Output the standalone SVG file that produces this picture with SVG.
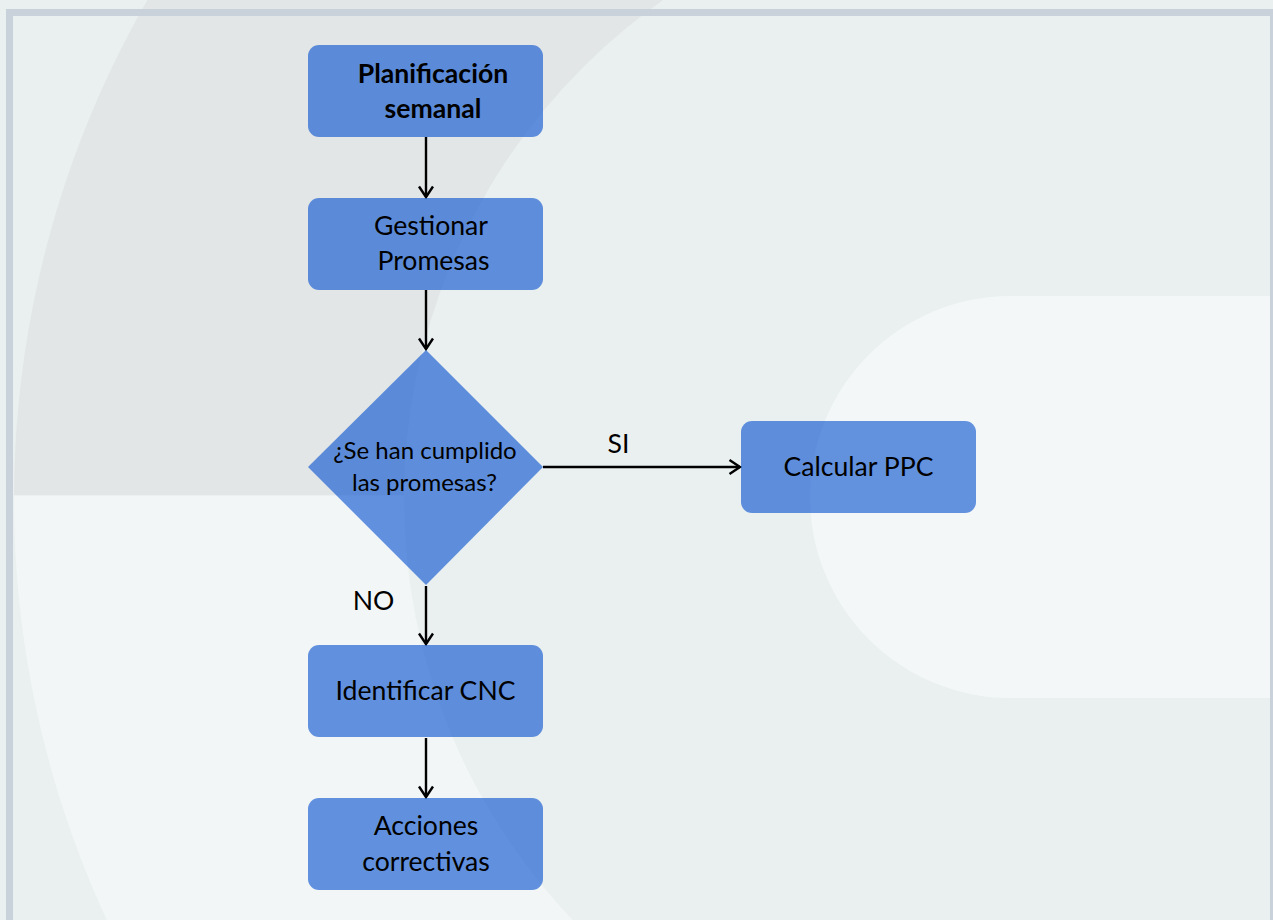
<svg xmlns="http://www.w3.org/2000/svg" width="1273" height="920" viewBox="0 0 1273 920">
  <defs>
    <style>
      .node { fill: #0853cf; fill-opacity: 0.62; }
      .label { font-family: "Lato", "Liberation Sans", sans-serif; font-size: 26.6px; fill: #000; text-anchor: middle; }
      .bold { font-weight: bold; }
      .small { font-size: 24px; }
      .edge { fill: none; stroke: #000; stroke-width: 2.4; }
    </style>
    <marker id="arrow" markerUnits="userSpaceOnUse" markerWidth="16" markerHeight="18" refX="12" refY="8" orient="auto" viewBox="0 0 16 18">
      <path d="M1.5,1 L12,8 L1.5,15" fill="none" stroke="#000" stroke-width="2.4" stroke-linejoin="miter"/>
    </marker>
    <clipPath id="upper"><rect x="0" y="-10" width="1273" height="505.5"/></clipPath>
    <clipPath id="lower"><rect x="0" y="495.5" width="1273" height="440"/></clipPath>
  </defs>

  <!-- page background -->
  <rect x="0" y="0" width="1273" height="920" fill="#eaf0f0"/>

  <!-- decorative ring, darker above the split line and lighter below -->
  <path d="M14,499 A1000,1000 0 1 0 2014,499 A1000,1000 0 1 0 14,499 Z M404,499 A610,610 0 1 1 1624,499 A610,610 0 1 1 404,499 Z" fill="#e2e6e7" fill-rule="evenodd" clip-path="url(#upper)"/>
  <path d="M14,499 A1000,1000 0 1 0 2014,499 A1000,1000 0 1 0 14,499 Z M404,499 A610,610 0 1 1 1624,499 A610,610 0 1 1 404,499 Z" fill="#f2f6f7" fill-rule="evenodd" clip-path="url(#lower)"/>

  <!-- decorative rounded band on the right -->
  <rect x="810" y="296" width="700" height="402" rx="201" ry="201" fill="#f3f7f8"/>

  <!-- frame -->
  <rect x="9.5" y="12.5" width="1264" height="920" fill="none" stroke="#c9d1da" stroke-width="7"/>

  <!-- connectors -->
  <g id="connectors">
    <line class="edge" x1="426" y1="137" x2="426" y2="197" marker-end="url(#arrow)"/>
    <line class="edge" x1="426" y1="290" x2="426" y2="349" marker-end="url(#arrow)"/>
    <line class="edge" x1="543" y1="467" x2="740" y2="467" marker-end="url(#arrow)"/>
    <line class="edge" x1="426" y1="586" x2="426" y2="644" marker-end="url(#arrow)"/>
    <line class="edge" x1="426" y1="738" x2="426" y2="797" marker-end="url(#arrow)"/>
    <text class="label" x="618.5" y="453">SI</text>
    <text class="label" x="373.5" y="610">NO</text>
  </g>

  <g id="planificacion">
    <rect class="node" x="308" y="45" width="235" height="92" rx="11"/>
    <text class="label bold" x="433" y="83">Planificación</text>
    <text class="label bold" x="433" y="118">semanal</text>
  </g>

  <g id="gestionar">
    <rect class="node" x="308" y="198" width="235" height="92" rx="11"/>
    <text class="label" x="431" y="235">Gestionar</text>
    <text class="label" x="433.5" y="270">Promesas</text>
  </g>

  <g id="decision">
    <polygon class="node" points="426,350 543,467 426,585 308,467"/>
    <text class="label small" x="425" y="459">¿Se han cumplido</text>
    <text class="label small" x="424.5" y="490.5">las promesas?</text>
  </g>

  <g id="calcular">
    <rect class="node" x="741" y="421" width="235" height="92" rx="11"/>
    <text class="label" x="858.5" y="476">Calcular PPC</text>
  </g>

  <g id="identificar">
    <rect class="node" x="308" y="645" width="235" height="92" rx="11"/>
    <text class="label" x="425.5" y="700">Identificar CNC</text>
  </g>

  <g id="acciones">
    <rect class="node" x="308" y="798" width="235" height="92" rx="11"/>
    <text class="label" x="426" y="835">Acciones</text>
    <text class="label" x="426" y="870.5">correctivas</text>
  </g>
</svg>
